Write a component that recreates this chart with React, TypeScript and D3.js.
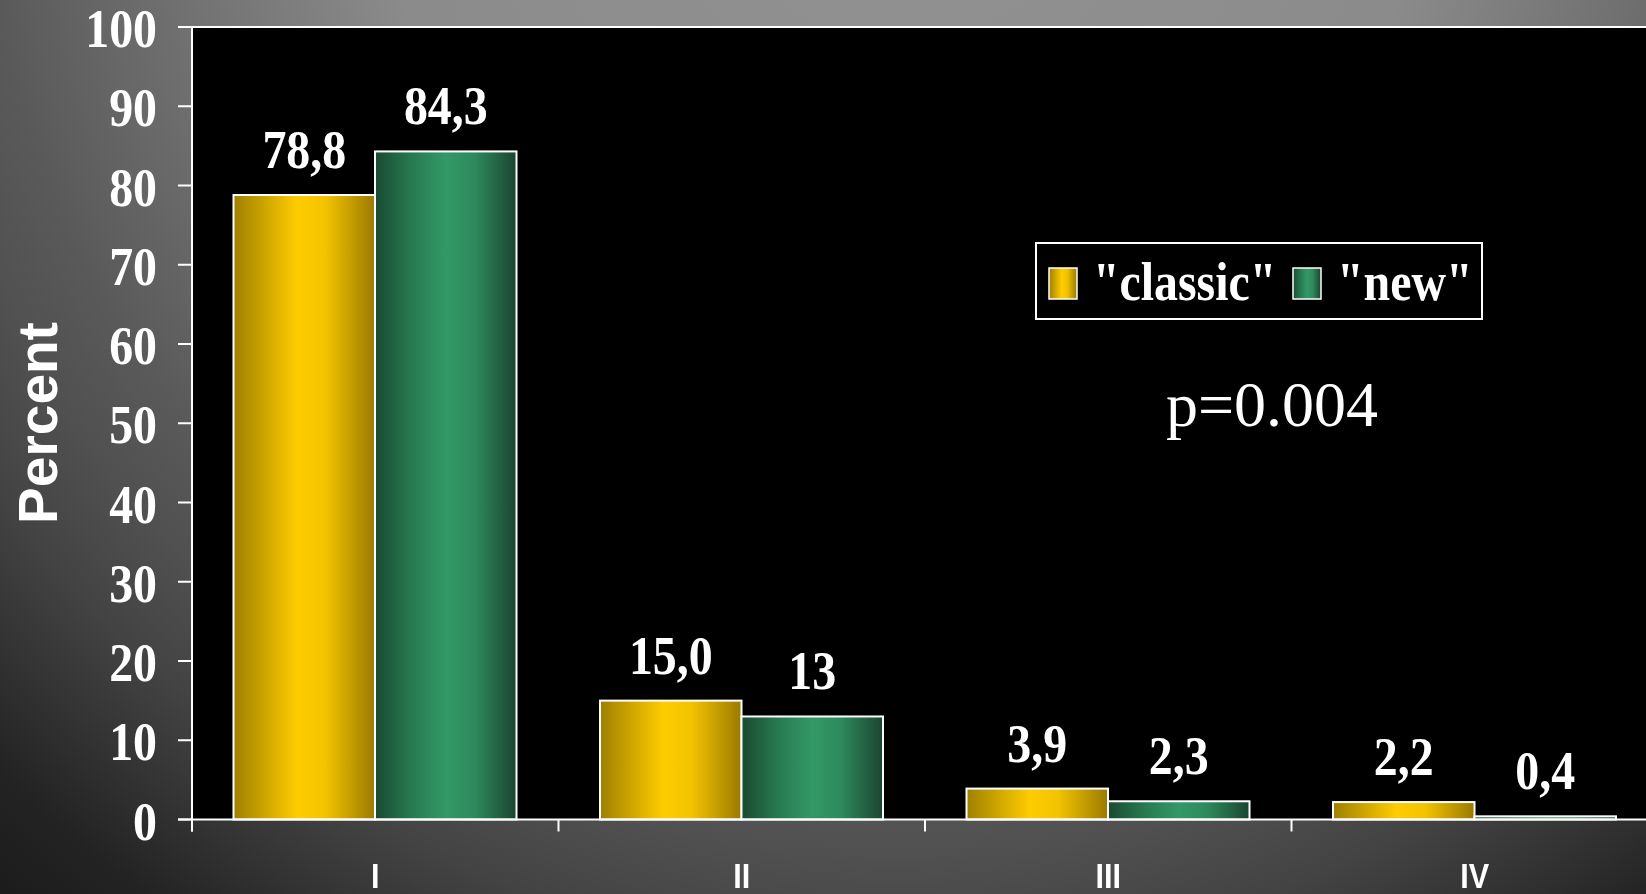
import React, { useEffect, useRef } from 'react';
import * as d3 from 'd3';

// chart values
const categories = ['I', 'II', 'III', 'IV'];
const seriesNames = ['classic', 'new'];
const classicValues = [78.8, 15.0, 3.9, 2.2];
const newValues = [84.3, 13, 2.3, 0.4];
const classicLabels = ['78,8', '15,0', '3,9', '2,2'];
const newLabels = ['84,3', '13', '2,3', '0,4'];
const yTicks = [0, 10, 20, 30, 40, 50, 60, 70, 80, 90, 100];
const legendLabels = ['"classic"', '"new"'];
const pValueText = 'p=0.004';

const W = 1646;
const H = 894;
const SERIF = '"Liberation Serif", "Times New Roman", serif';
const SANS = '"Liberation Sans", Arial, sans-serif';
const SQUEEZE = 0.87;

const App: React.FC = () => {
  const svgRef = useRef<SVGSVGElement>(null);

  useEffect(() => {
    if (!svgRef.current) return;
    const svg = d3.select(svgRef.current);
    svg.selectAll('*').remove();

    const plotLeft = 192;
    const plotTop = 27;
    const baseY = 819.5;
    const bandW = 366.5;

    const x0 = d3.scaleBand<string>()
      .domain(categories)
      .range([plotLeft, plotLeft + bandW * categories.length])
      .padding(0);
    const x1 = d3.scaleBand<string>()
      .domain(seriesNames)
      .range([41.5, 324.5])
      .padding(0);
    const y = d3.scaleLinear().domain([0, 100]).range([baseY, plotTop]);

    const defs = svg.append('defs');

    // slide background
    const bg = defs.append('radialGradient')
      .attr('id', 'bgGrad')
      .attr('gradientUnits', 'userSpaceOnUse')
      .attr('cx', 900).attr('cy', -150).attr('r', 1400);
    [
      [0, '#929292'], [0.37, '#8b8b8b'], [0.54, '#6e6e6e'], [0.65, '#5a5a5a'],
      [0.72, '#505050'], [0.79, '#434343'], [0.92, '#232323'], [1, '#1a1a1a']
    ].forEach(([o, c]) => bg.append('stop').attr('offset', o as number).attr('stop-color', c as string));

    const gold = defs.append('linearGradient').attr('id', 'goldGrad')
      .attr('x1', 0).attr('x2', 1).attr('y1', 0).attr('y2', 0);
    [[0, '#9e8000'], [0.2, '#c9a200'], [0.45, '#ffcc00'], [0.65, '#f2c300'], [1, '#9a7a00']]
      .forEach(([o, c]) => gold.append('stop').attr('offset', o as number).attr('stop-color', c as string));

    const green = defs.append('linearGradient').attr('id', 'greenGrad')
      .attr('x1', 0).attr('x2', 1).attr('y1', 0).attr('y2', 0);
    [[0, '#1a4a31'], [0.25, '#27784f'], [0.5, '#339966'], [0.7, '#2e8a5c'], [1, '#1a4530']]
      .forEach(([o, c]) => green.append('stop').attr('offset', o as number).attr('stop-color', c as string));

    const fills: Record<string, string> = { classic: 'url(#goldGrad)', new: 'url(#greenGrad)' };

    svg.append('rect').attr('width', W).attr('height', H).attr('fill', 'url(#bgGrad)');

    // plot area
    svg.append('rect')
      .attr('x', plotLeft).attr('y', plotTop)
      .attr('width', W - plotLeft + 20).attr('height', baseY - plotTop)
      .attr('fill', '#000');

    const axisG = svg.append('g').attr('stroke', '#fff').attr('stroke-width', 2);
    axisG.append('line')
      .attr('x1', plotLeft).attr('x2', plotLeft)
      .attr('y1', plotTop).attr('y2', baseY + 12);
    axisG.append('line')
      .attr('x1', plotLeft - 14).attr('x2', W + 10)
      .attr('y1', plotTop).attr('y2', plotTop);
    axisG.selectAll('line.ytick')
      .data(yTicks)
      .enter()
      .append('line')
      .attr('class', 'ytick')
      .attr('x1', plotLeft - 14).attr('x2', plotLeft)
      .attr('y1', d => y(d)).attr('y2', d => y(d));
    axisG.selectAll('line.xtick')
      .data(categories)
      .enter()
      .append('line')
      .attr('class', 'xtick')
      .attr('x1', d => x0(d)!).attr('x2', d => x0(d)!)
      .attr('y1', baseY).attr('y2', baseY + 12);

    // y tick labels
    svg.selectAll('text.ylab')
      .data(yTicks)
      .enter()
      .append('text')
      .attr('class', 'ylab')
      .attr('transform', d => `translate(157,${y(d) + 20}) scale(${SQUEEZE},1)`)
      .attr('text-anchor', 'end')
      .attr('font-family', SERIF)
      .attr('font-weight', 'bold')
      .attr('font-size', 55)
      .attr('fill', '#fff')
      .text(d => d);

    // y axis title
    svg.append('text')
      .attr('transform', 'translate(57,423) rotate(-90)')
      .attr('text-anchor', 'middle')
      .attr('font-family', SANS)
      .attr('font-weight', 'bold')
      .attr('font-size', 55)
      .attr('fill', '#fff')
      .text('Percent');

    // category labels
    svg.selectAll('text.xlab')
      .data(categories)
      .enter()
      .append('text')
      .attr('class', 'xlab')
      .attr('transform', d => `translate(${x0(d)! + x0.bandwidth() / 2},888) scale(0.85,1)`)
      .attr('text-anchor', 'middle')
      .attr('font-family', SANS)
      .attr('font-weight', 'bold')
      .attr('font-size', 36)
      .attr('fill', '#fff')
      .text(d => d);

    // bars
    const rows = categories.map((c, i) => ({
      cat: c,
      items: [
        { key: 'classic', value: classicValues[i], label: classicLabels[i] },
        { key: 'new', value: newValues[i], label: newLabels[i] }
      ]
    }));

    const groups = svg.selectAll('g.cat')
      .data(rows)
      .enter()
      .append('g')
      .attr('class', 'cat')
      .attr('transform', d => `translate(${x0(d.cat)},0)`);

    groups.selectAll('rect')
      .data(d => d.items)
      .enter()
      .append('rect')
      .attr('x', d => x1(d.key)!)
      .attr('y', d => y(d.value))
      .attr('width', x1.bandwidth())
      .attr('height', d => baseY - y(d.value))
      .attr('fill', d => fills[d.key])
      .attr('stroke', '#fff')
      .attr('stroke-width', 2);

    groups.selectAll('text')
      .data(d => d.items)
      .enter()
      .append('text')
      .attr('transform', d => `translate(${x1(d.key)! + x1.bandwidth() / 2},${y(d.value) - 27}) scale(${SQUEEZE},1)`)
      .attr('text-anchor', 'middle')
      .attr('font-family', SERIF)
      .attr('font-weight', 'bold')
      .attr('font-size', 55)
      .attr('fill', '#fff')
      .text(d => d.label);

    // baseline on top of bars
    svg.append('line')
      .attr('x1', plotLeft - 14).attr('x2', W + 10)
      .attr('y1', baseY).attr('y2', baseY)
      .attr('stroke', '#fff').attr('stroke-width', 2);

    // legend
    const leg = svg.append('g');
    leg.append('rect')
      .attr('x', 1036).attr('y', 243).attr('width', 446).attr('height', 76)
      .attr('fill', '#000').attr('stroke', '#fff').attr('stroke-width', 2);
    const legX = [1049, 1293];
    seriesNames.forEach((s, i) => {
      leg.append('rect')
        .attr('x', legX[i]).attr('y', 268).attr('width', 28).attr('height', 31)
        .attr('fill', fills[s]).attr('stroke', '#fff').attr('stroke-width', 1.5);
      leg.append('text')
        .attr('transform', `translate(${legX[i] + 44},300) scale(${SQUEEZE},1)`)
        .attr('font-family', SERIF)
        .attr('font-weight', 'bold')
        .attr('font-size', 55)
        .attr('fill', '#fff')
        .text(legendLabels[i]);
    });

    svg.append('text')
      .attr('x', 1166).attr('y', 426)
      .attr('font-family', SERIF)
      .attr('font-size', 64)
      .attr('fill', '#fff')
      .text(pValueText);
  }, []);

  return (
    <svg
      ref={svgRef}
      width={W}
      height={H}
      style={{ position: 'fixed', left: 0, top: 0, display: 'block' }}
    />
  );
};

export default App;
